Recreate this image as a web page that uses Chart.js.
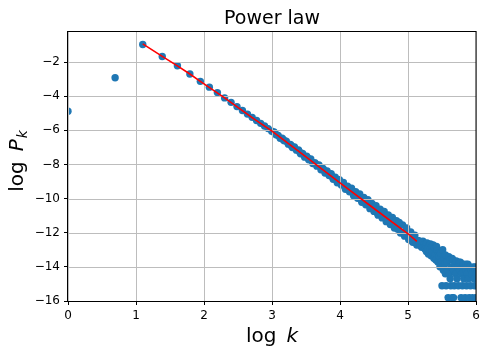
<!DOCTYPE html>
<html>
<head>
<meta charset="utf-8">
<script src="https://cdn.jsdelivr.net/npm/chart.js@4/dist/chart.umd.min.js"></script>
<style>
html,body{margin:0;padding:0;background:#fff;}
canvas{display:block;}
</style>
</head>
<body>
<canvas id="c" width="489" height="356"></canvas>
<script>
// ---- data (x = log k, y = log P_k) ----
const headLogK = [0, 0.693, 1.099, 1.386, 1.609, 1.792, 1.946, 2.079, 2.197, 2.303, 2.398, 2.485, 2.565, 2.639, 2.708, 2.773, 2.833, 2.890, 2.944, 2.996];
const headLogP = [-4.88, -2.92, -0.97, -1.67, -2.22, -2.70, -3.13, -3.47, -3.79, -4.10, -4.36, -4.61, -4.84, -5.05, -5.24, -5.42, -5.59, -5.75, -5.90, -6.05];

const bodyLogK = [3.03,3.06,3.09,3.12,3.15,3.18,3.21,3.24,3.27,3.30,3.33,3.36,3.39,3.42,3.45,3.48,3.51,3.54,3.57,3.60,
  3.63,3.66,3.69,3.72,3.75,3.78,3.81,3.84,3.87,3.90,3.93,3.96,3.99,4.02,4.05,4.08,4.11,4.14,4.17,4.20,
  4.23,4.26,4.29,4.32,4.35,4.38,4.41,4.44,4.47,4.50,4.53,4.56,4.59,4.62,4.65,4.68,4.71,4.74,4.77,4.80,
  4.83,4.86,4.89,4.92,4.95,4.98,5.01,5.04,5.07,5.10,5.13,
  4.015,4.125,4.245,4.365,4.485,4.605,4.725,4.845,4.965,5.085,4.87,
  3.045,3.165,3.285,3.405,3.525,3.645,3.765,3.885,
  4.55,4.70,4.85,4.95,5.05,5.12];
const bodyLogP = [-6.10,-6.26,-6.30,-6.46,-6.46,-6.61,-6.63,-6.81,-6.83,-7.01,-6.98,-7.16,-7.15,-7.37,-7.36,-7.57,-7.52,-7.72,-7.68,-7.94,
  -7.89,-8.10,-8.03,-8.31,-8.23,-8.50,-8.38,-8.65,-8.54,-8.87,-8.75,-9.07,-8.89,-9.21,-9.05,-9.45,-9.27,-9.60,-9.39,-9.83,
  -9.60,-9.98,-9.73,-10.21,-9.94,-10.36,-10.07,-10.59,-10.28,-10.75,-10.42,-10.97,-10.62,-11.13,-10.76,-11.35,-10.96,-11.52,-11.10,-11.73,
  -11.30,-11.58,-12.02,-11.55,-12.20,-11.72,-12.40,-11.95,-12.56,-12.15,-12.72,
  -9.10,-9.43,-9.79,-10.15,-10.50,-10.87,-11.22,-11.59,-11.94,-12.30,-11.40,
  -6.19,-6.55,-6.90,-7.26,-7.62,-7.98,-8.34,-8.70,
  -10.85,-11.25,-11.80,-12.05,-12.45,-12.60];

const tailLogK = [5.15,5.16,5.17,5.18,5.19,5.20,5.21,5.22,5.23,5.24,5.25,
  5.26,5.27,5.28,5.29,5.30,5.31,5.32,5.33,5.34,5.35,
  5.36,5.37,5.38,5.39,5.40,5.41,5.42,5.43,5.44,5.45,
  5.46,5.47,5.48,5.49,5.50,5.51,5.52,5.53,5.54,5.55,5.55,
  5.56,5.57,5.58,5.59,5.60,5.61,5.62,5.63,5.64,5.65,5.62,5.65,
  5.66,5.67,5.67,5.68,5.69,5.70,5.71,5.72,5.73,5.74,5.75,
  5.76,5.77,5.78,5.79,5.80,5.81,5.82,5.83,5.84,5.85,5.85,
  5.86,5.87,5.88,5.89,5.90,5.91,5.92,5.93,5.94,5.95,5.96,5.97,5.98,5.99,6.00,6.00,5.99,6.01];
const tailLogP = [-12.45,-12.60,-12.50,-12.75,-12.55,-12.85,-12.60,-12.50,-12.80,-12.65,-12.95,
  -12.70,-13.10,-12.60,-12.90,-13.25,-12.75,-13.00,-12.65,-13.35,-12.85,
  -13.10,-12.72,-13.50,-12.90,-13.30,-13.60,-12.80,-13.05,-13.72,-13.20,
  -13.40,-14.00,-13.20,-13.70,-15.11,-13.00,-14.20,-13.50,-13.85,-13.30,-14.41,
  -15.11,-13.72,-14.19,-15.80,-13.40,-14.41,-13.60,-15.11,-14.00,-13.50,-14.70,-15.80,
  -13.60,-14.19,-15.80,-15.11,-13.85,-14.41,-13.65,-14.70,-14.00,-15.11,-13.72,
  -14.19,-13.72,-15.80,-14.41,-15.11,-13.85,-14.70,-14.00,-15.80,-14.19,-13.85,
  -15.11,-14.41,-13.85,-14.70,-15.80,-14.00,-15.11,-14.19,-14.41,-15.80,-14.00,-14.70,-15.11,-14.19,-15.80,-14.41,-14.00,-15.11];

// fitted power-law line (red)
const fitLogK = [1.099, 1.386, 1.609, 1.792, 1.946, 2.303, 2.708, 3.0, 3.5, 4.0, 4.5, 5.0, 5.13];
const fitLogP = [-0.93, -1.67, -2.22, -2.70, -3.13, -4.10, -5.25, -6.05, -7.55, -9.08, -10.58, -12.06, -12.50];

const xTicks = [0, 1, 2, 3, 4, 5, 6];
const yTicks = [-16, -14, -12, -10, -8, -6, -4, -2];
const xRange = [0, 6];
const yRange = [-16, -0.18];

const titleText = 'Power law';

// ---- build datasets ----
const allK = headLogK.concat(bodyLogK, tailLogK);
const allP = headLogP.concat(bodyLogP, tailLogP);
const scatterPts = allK.map((x, i) => ({x: x, y: allP[i]}));
const fitPts = fitLogK.map((x, i) => ({x: x, y: fitLogP[i]}));

const FONT = '"DejaVu Sans", "Liberation Sans", sans-serif';
const fmt = v => (v < 0 ? '\u2212' : '') + Math.abs(v);

const decor = {
  id: 'decor',
  afterDatasetDraw(chart, args) {
    if (args.index !== 0) return;
    const ctx = chart.ctx, a = chart.chartArea;
    const xs = chart.scales.x, ys = chart.scales.y;
    ctx.save();
    ctx.strokeStyle = '#bdbdbd';
    ctx.lineWidth = 1;
    ctx.beginPath();
    xTicks.forEach(v => {
      const p = Math.round(xs.getPixelForValue(v)) + 0.5;
      ctx.moveTo(p, a.top); ctx.lineTo(p, a.bottom);
    });
    yTicks.forEach(v => {
      const p = Math.round(ys.getPixelForValue(v)) + 0.5;
      ctx.moveTo(a.left, p); ctx.lineTo(a.right, p);
    });
    ctx.stroke();
    ctx.restore();
  },
  afterDraw(chart) {
    const ctx = chart.ctx, a = chart.chartArea;
    ctx.save();
    // frame
    ctx.strokeStyle = '#000';
    ctx.lineWidth = 1;
    ctx.strokeRect(Math.round(a.left) - 0.5, Math.round(a.top) + 0.5, Math.round(a.right - a.left) + 0.5, Math.round(a.bottom - a.top));
    ctx.fillStyle = '#000';
    // title
    ctx.font = '19px ' + FONT;
    ctx.textAlign = 'center';
    ctx.textBaseline = 'alphabetic';
    const cx = (a.left + a.right) / 2;
    ctx.fillText(titleText, cx, 24);
    // x label: log k
    ctx.textAlign = 'left';
    const gap = 10;
    ctx.font = '20px ' + FONT;
    const wLog = ctx.measureText('log').width;
    ctx.font = 'italic 20px ' + FONT;
    const wK = ctx.measureText('k').width;
    let x0 = cx - (wLog + gap + wK) / 2;
    ctx.font = '20px ' + FONT;
    ctx.fillText('log', x0, 342);
    ctx.font = 'italic 20px ' + FONT;
    ctx.fillText('k', x0 + wLog + gap, 342);
    // y label: log P_k
    ctx.translate(23, 161);
    ctx.rotate(-Math.PI / 2);
    ctx.font = 'italic 20px ' + FONT;
    const wP = ctx.measureText('P').width;
    ctx.font = 'italic 14px ' + FONT;
    const wSub = ctx.measureText('k').width;
    const total = wLog + gap + wP + 1 + wSub;
    let y0 = -total / 2;
    ctx.font = '20px ' + FONT;
    ctx.fillText('log', y0, 0);
    ctx.font = 'italic 20px ' + FONT;
    ctx.fillText('P', y0 + wLog + gap, 0);
    ctx.font = 'italic 14px ' + FONT;
    ctx.fillText('k', y0 + wLog + gap + wP + 1, 4);
    ctx.restore();
  }
};

new Chart(document.getElementById('c'), {
  type: 'scatter',
  data: {
    datasets: [
      {
        data: scatterPts,
        backgroundColor: '#1f77b4',
        borderWidth: 0,
        pointRadius: 3.7,
        pointHoverRadius: 3.7,
        order: 1,
        clip: 0
      },
      {
        data: fitPts,
        showLine: true,
        borderColor: '#ff0000',
        borderWidth: 1.6,
        pointRadius: 0,
        fill: false,
        tension: 0,
        order: 0,
        clip: 0
      }
    ]
  },
  options: {
    responsive: false,
    animation: false,
    devicePixelRatio: 1,
    events: [],
    layout: { padding: { top: 31, right: 13, left: 0, bottom: 0 } },
    plugins: { legend: { display: false }, title: { display: false }, tooltip: { enabled: false } },
    scales: {
      x: {
        type: 'linear', min: xRange[0], max: xRange[1],
        afterBuildTicks: s => { s.ticks = xTicks.map(v => ({value: v})); },
        afterFit: s => { s.height = 55; },
        ticks: { font: { family: FONT, size: 12 }, color: '#000', padding: 4, maxRotation: 0, autoSkip: false, callback: v => fmt(v) },
        grid: { drawOnChartArea: false, drawTicks: true, tickLength: 4, tickColor: '#000', tickWidth: 1 },
        border: { display: true, color: '#000', width: 1 }
      },
      y: {
        type: 'linear', min: yRange[0], max: yRange[1],
        afterBuildTicks: s => { s.ticks = yTicks.map(v => ({value: v})); },
        afterFit: s => { s.width = 68; },
        ticks: { font: { family: FONT, size: 12 }, color: '#000', padding: 4, autoSkip: false, callback: v => fmt(v) },
        grid: { drawOnChartArea: false, drawTicks: true, tickLength: 4, tickColor: '#000', tickWidth: 1 },
        border: { display: true, color: '#000', width: 1 }
      }
    }
  },
  plugins: [decor]
});
</script>
</body>
</html>
